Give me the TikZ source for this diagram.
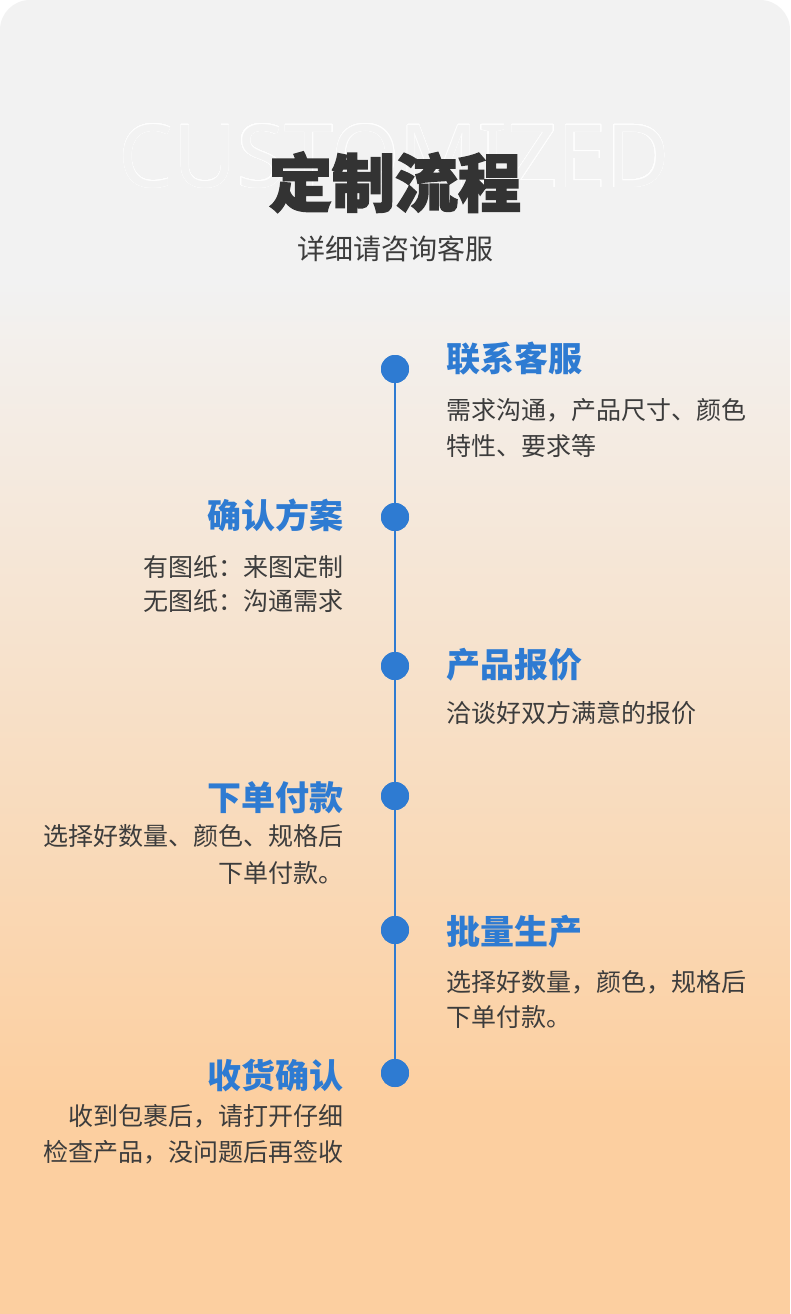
\documentclass[tikz,border=0pt]{standalone}
\usepackage{fontspec}
\usepackage{contour}
\newfontfamily\cjk{Noto Sans CJK SC}
\newfontfamily\cjkheavy{Noto Sans CJK SC}[BoldFeatures={FakeBold=2.5}]
\newfontfamily\latinsans{Noto Sans}
\definecolor{bggrey}{HTML}{F2F2F2}
\definecolor{bgpeach}{HTML}{FCCFA0}
\definecolor{tlblue}{HTML}{2E7BD2}
\definecolor{bodygrey}{HTML}{3C3C3C}
\definecolor{titlegrey}{HTML}{333333}
\contourlength{0.45pt}
\contournumber{40}
\tikzset{
  dot/.style={circle, fill=tlblue, minimum size=28pt, inner sep=0pt},
  steptitle/.style={inner sep=0pt, text=tlblue, font=\cjk\bfseries\fontsize{34}{40}\selectfont},
  stepbody/.style={inner sep=0pt, text=bodygrey, font=\cjk\fontsize{25}{35.5}\selectfont},
}
\begin{document}
\begin{tikzpicture}[x=1pt,y=-1pt]
\useasboundingbox (0,0) rectangle (790,1314);
\fill[white] (0,0) rectangle (790,1314);
\begin{scope}
  \clip (0,1314) -- (0,30) .. controls (0,13.4) and (13.4,0) .. (30,0) -- (760,0)
        .. controls (776.6,0) and (790,13.4) .. (790,30) -- (790,1314) -- cycle;
  \fill[bggrey] (-1,-1) rectangle (791,281);
  \shade[top color=bggrey, bottom color=bgpeach] (-1,280) rectangle (791,1101);
  \fill[bgpeach] (-1,1100) rectangle (791,1315);
\end{scope}
% watermark
\node[inner sep=0pt, anchor=base] (wm) at (394,187) {\latinsans\fontsize{87}{87}\selectfont\contour{white}{\textcolor{bggrey}{CUSTOMIZED}}};
% headings
\node[inner sep=0pt, anchor=base, text=titlegrey, font=\cjkheavy\bfseries\fontsize{63}{70}\selectfont] (title) at (395,206.5) {定制流程};
\node[inner sep=0pt, anchor=base, text=bodygrey, font=\cjk\fontsize{28}{32}\selectfont] (sub) at (395,259.6) {详细请咨询客服};
% timeline dots
\node[dot] (d1) at (395,369) {};
\node[dot] (d2) at (395,517) {};
\node[dot] (d3) at (395,666) {};
\node[dot] (d4) at (395,796) {};
\node[dot] (d5) at (395,930) {};
\node[dot] (d6) at (395,1073) {};
\draw[tlblue, line width=2.5pt] (d1.center) -- (d6.center);
\foreach \n in {d1,d2,d3,d4,d5,d6} \fill[tlblue] (\n) circle (14pt);
% step 1
\node[steptitle, anchor=base west] (t1) at (446,371.5) {联系客服};
\node[stepbody, anchor=base west] (b1a) at (446,419.5) {需求沟通，产品尺寸、颜色};
\node[stepbody, anchor=base west] (b1b) at (446,455) {特性、要求等};
% step 2
\node[steptitle, anchor=base east] (t2) at (344,528.5) {确认方案};
\node[stepbody, anchor=base east] (b2a) at (344,576.5) {有图纸：来图定制};
\node[stepbody, anchor=base east] (b2b) at (344,610.5) {无图纸：沟通需求};
% step 3
\node[steptitle, anchor=base west] (t3) at (446,677) {产品报价};
\node[stepbody, anchor=base west] (b3) at (446,722) {洽谈好双方满意的报价};
% step 4
\node[steptitle, anchor=base east] (t4) at (344,810) {下单付款};
\node[stepbody, anchor=base east] (b4a) at (344,845.5) {选择好数量、颜色、规格后};
\node[stepbody, anchor=base east] (b4b) at (344,882) {下单付款。};
% step 5
\node[steptitle, anchor=base west] (t5) at (446,944) {批量生产};
\node[stepbody, anchor=base west] (b5a) at (446,991) {选择好数量，颜色，规格后};
\node[stepbody, anchor=base west] (b5b) at (446,1026.5) {下单付款。};
% step 6
\node[steptitle, anchor=base east] (t6) at (344,1088) {收货确认};
\node[stepbody, anchor=base east] (b6a) at (344,1125.5) {收到包裹后，请打开仔细};
\node[stepbody, anchor=base east] (b6b) at (344,1161.5) {检查产品，没问题后再签收};
\end{tikzpicture}
\end{document}
